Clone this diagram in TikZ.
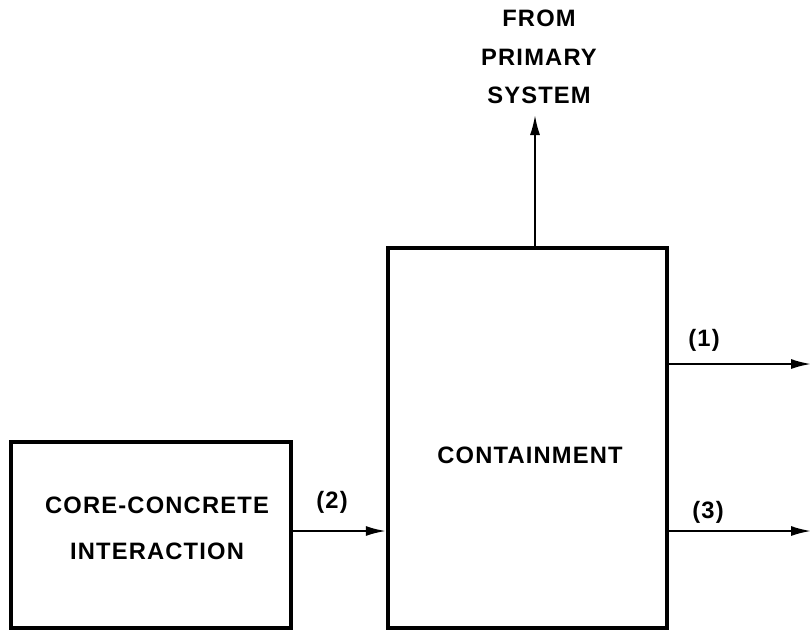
\documentclass[tikz,border=0pt]{standalone}
\usepackage{fontspec}
\setmainfont{Liberation Sans}[LetterSpace=5]
\usepackage{tikz}
\usetikzlibrary{positioning, arrows.meta, calc}

\begin{document}
\begin{tikzpicture}[
          blk/.style={rectangle, draw=black, line width=2.5pt,
                      inner sep=0pt},
          lbl/.style={font=\fontsize{13.5}{22}\selectfont\bfseries, align=center},
          arr/.style={-{Latex[length=4mm, width=2mm]}, line width=1.1pt}
        ]
        \useasboundingbox (0,0) rectangle (16.22,-12.64);

        % Blocks
        \node[blk, minimum width=5.6cm, minimum height=3.72cm]
              (core) at (3.02,-10.7) {};
        \node[lbl] (coretxt) at (3.14,-10.56) {CORE-CONCRETE\\[4pt]INTERACTION};

        \node[blk, minimum width=5.58cm, minimum height=7.6cm]
              (cont) at (10.55,-8.76) {};
        \node[lbl] (conttxt) at (10.6,-9.1) {CONTAINMENT};

        % Free ends
        \coordinate (src)  at (10.7,-2.3);
        \coordinate (out1) at (16.22,-7.28);
        \coordinate (out3) at (16.22,-10.62);

        \node[lbl] (srctxt) at (10.78,-1.14) {FROM\\PRIMARY\\SYSTEM};

        % Connectors
        \draw[arr] (cont.north -| src) -- (src);
        \draw[arr] (core.east |- out3) -- (cont.west |- out3);
        \draw[arr] (cont.east |- out1) -- (out1);
        \draw[arr] (cont.east |- out3) -- (out3);

        \node[lbl] (l1) at (14.08,-6.8)  {(1)};
        \node[lbl] (l2) at (6.64,-10.04) {(2)};
        \node[lbl] (l3) at (14.16,-10.24) {(3)};
      \end{tikzpicture}
\end{document}
